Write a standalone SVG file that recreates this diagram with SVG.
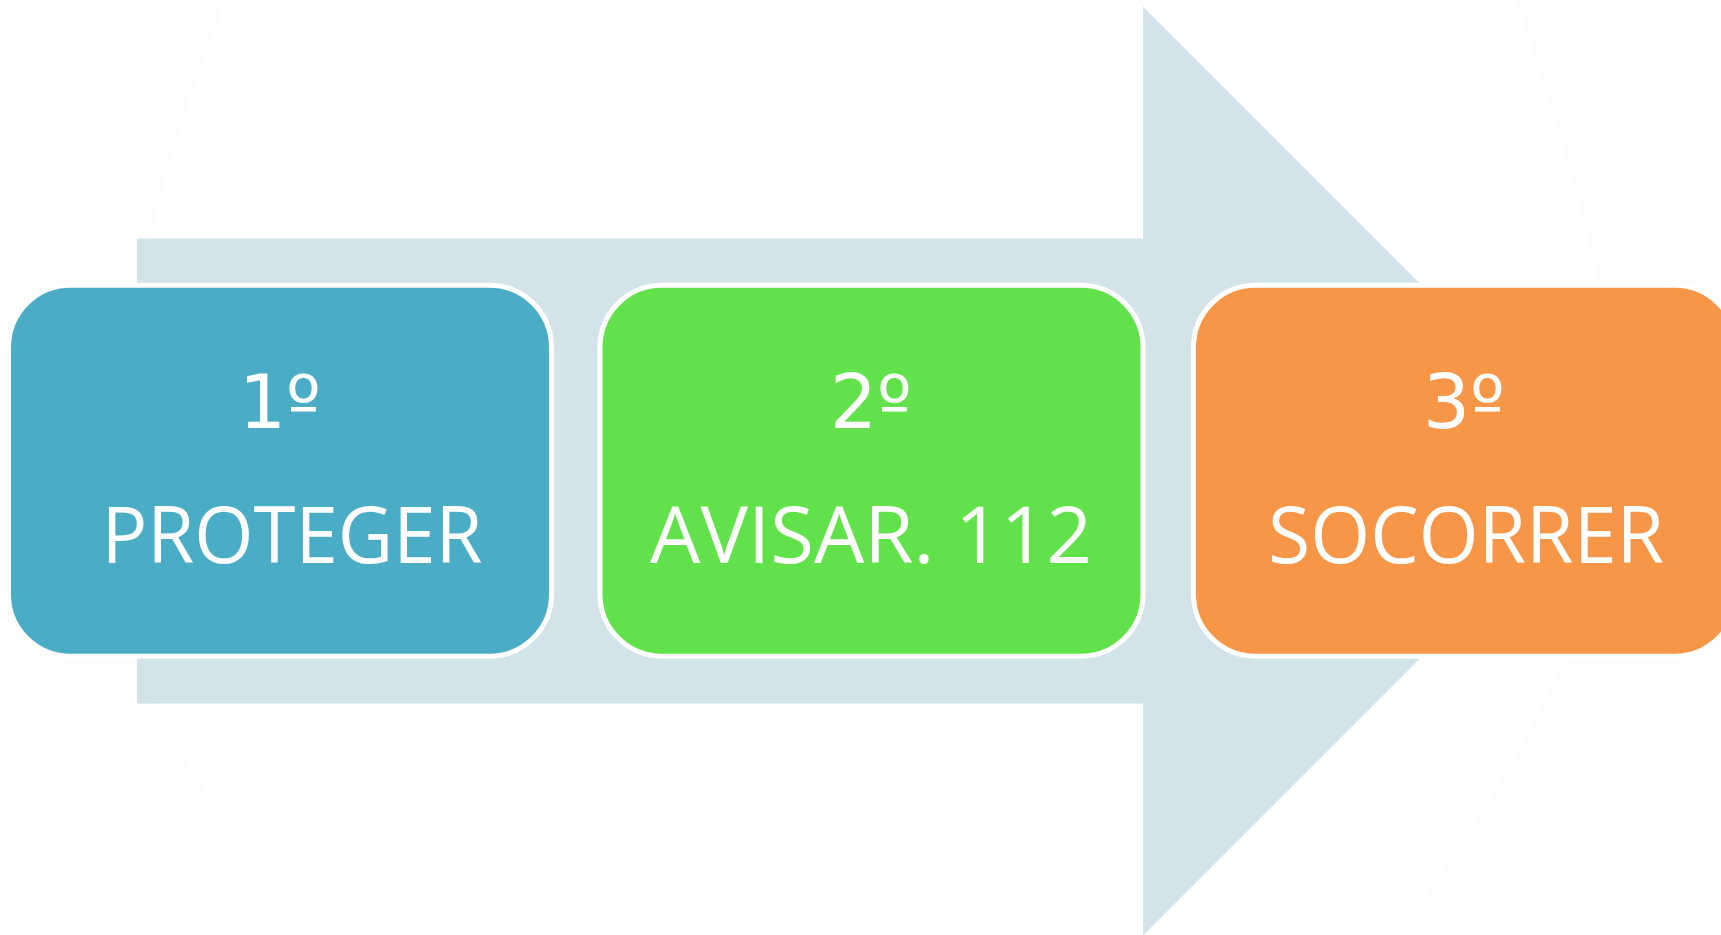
<svg xmlns="http://www.w3.org/2000/svg" width="1721" height="935" viewBox="0 0 1721 935">
  <style>
    .box { stroke: #FFFFFF; stroke-width: 5; }
    .lbl { fill: #FFFFFF; font-family: "Open Sans", "Noto Sans", "Liberation Sans", sans-serif; font-size: 78px; text-anchor: middle; }
    .ord { fill: #FFFFFF; font-family: "DejaVu Sans", sans-serif; font-size: 74px; text-anchor: middle; }
  </style>
  <rect x="0" y="0" width="1721" height="935" fill="#FDFDFD"/>
  <path d="M226,0 Q160,170 137,300 L137,650 Q180,800 340,935 L1397,935 Q1560,720 1640,471 Q1600,250 1516,0 Z" fill="#FFFFFF"/>
  <g id="connectors">
    <path d="M137,238.5 L1143,238.5 L1143,6.5 L1607.5,471 L1143,935.5 L1143,703.5 L137,703.5 Z" fill="#D2E3EA"/>
  </g>
  <g id="node1">
    <rect class="box" x="8.5" y="285.2" width="543" height="371" rx="62" fill="#4BACC6"/>
    <text class="ord" x="280" y="428">1º</text>
    <text class="lbl" x="292" y="563" textLength="381" lengthAdjust="spacingAndGlyphs">PROTEGER</text>
  </g>
  <g id="node2">
    <rect class="box" x="600" y="285.2" width="543" height="371" rx="62" fill="#62E24A"/>
    <text class="ord" x="871" y="428">2º</text>
    <text class="lbl" x="871" y="563" textLength="442" lengthAdjust="spacingAndGlyphs">AVISAR. 112</text>
  </g>
  <g id="node3">
    <rect class="box" x="1193.5" y="285.2" width="543" height="371" rx="62" fill="#F79646"/>
    <text class="ord" x="1464" y="428">3º</text>
    <text class="lbl" x="1466" y="563" textLength="396" lengthAdjust="spacingAndGlyphs">SOCORRER</text>
  </g>
</svg>
